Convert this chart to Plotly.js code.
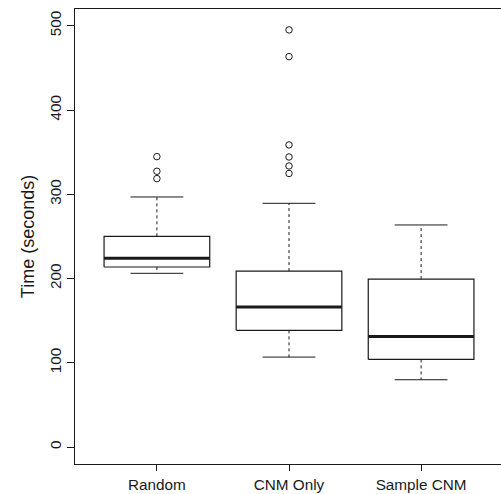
<!DOCTYPE html>
<html>
<head>
<meta charset="utf-8">
<script src="https://cdn.plot.ly/plotly-3.0.1.min.js"></script>
<style>
html,body{margin:0;padding:0;overflow:hidden;background:#fff;}
#chart{width:503px;height:494px;}
</style>
</head>
<body>
<div id="chart"></div>
<script>
const categories = ['Random', 'CNM Only', 'Sample CNM'];
const lowerWhisker = [206.3, 106.9, 80.0];
const q1 = [213.8, 138.6, 104.1];
const medians = [224.1, 166.3, 131.4];
const q3 = [250.2, 209.0, 199.5];
const upperWhisker = [296.9, 289.4, 263.7];
const outliers = [
  [344.8, 327.4, 318.7],
  [495.2, 463.5, 358.7, 344.4, 333.7, 324.8],
  []
];
const yTicks = [0, 100, 200, 300, 400, 500];

const halfBox = 0.4, halfCap = 0.2;
const lineColor = '#1a1a1a';

const boxX = [], boxY = [], medX = [], medY = [], whX = [], whY = [], capX = [], capY = [], outX = [], outY = [];
categories.forEach((c, i) => {
  const x = i + 1;
  boxX.push(x - halfBox, x + halfBox, x + halfBox, x - halfBox, x - halfBox, null);
  boxY.push(q1[i], q1[i], q3[i], q3[i], q1[i], null);
  medX.push(x - halfBox, x + halfBox, null);
  medY.push(medians[i], medians[i], null);
  whX.push(x, x, null, x, x, null);
  whY.push(q3[i], upperWhisker[i], null, q1[i], lowerWhisker[i], null);
  capX.push(x - halfCap, x + halfCap, null, x - halfCap, x + halfCap, null);
  capY.push(upperWhisker[i], upperWhisker[i], null, lowerWhisker[i], lowerWhisker[i], null);
  outliers[i].forEach(v => { outX.push(x); outY.push(v); });
});

const traces = [
  {x: whX, y: whY, mode: 'lines', line: {color: lineColor, width: 1, dash: '3px,3px'}, hoverinfo: 'skip'},
  {x: capX, y: capY, mode: 'lines', line: {color: lineColor, width: 1}, hoverinfo: 'skip'},
  {x: boxX, y: boxY, mode: 'lines', fill: 'none', line: {color: lineColor, width: 1.2}, hoverinfo: 'skip'},
  {x: medX, y: medY, mode: 'lines', line: {color: lineColor, width: 3}, hoverinfo: 'skip'},
  {x: outX, y: outY, mode: 'markers', marker: {symbol: 'circle-open', size: 6.5, color: lineColor, line: {width: 1, color: lineColor}}, hoverinfo: 'skip'}
];

const layout = {
  width: 503, height: 494,
  margin: {l: 75, r: 0, t: 9, b: 30, pad: 0},
  paper_bgcolor: '#fff', plot_bgcolor: '#fff',
  showlegend: false,
  font: {family: 'Liberation Sans, Arial, sans-serif', color: '#1a1a1a', size: 15},
  xaxis: {
    range: [0.38, 3.62], tickvals: [1, 2, 3], ticktext: categories,
    ticks: 'outside', ticklen: 6, tickcolor: lineColor, tickwidth: 1,
    ticklabelstandoff: 1,
    showline: true, mirror: true, linecolor: lineColor, linewidth: 1,
    showgrid: false, zeroline: false, tickfont: {size: 15.3}
  },
  yaxis: {
    range: [-20, 520], tickvals: yTicks, ticktext: yTicks.map(String),
    ticks: 'outside', ticklen: 7, tickcolor: lineColor, tickwidth: 1,
    tickangle: -90, showline: true, mirror: true, linecolor: lineColor, linewidth: 1,
    showgrid: false, zeroline: false, tickfont: {size: 15.3},
    title: {text: 'Time (seconds)', font: {size: 18}, standoff: 7}
  }
};

Plotly.newPlot('chart', traces, layout, {staticPlot: true, displayModeBar: false});
</script>
</body>
</html>
